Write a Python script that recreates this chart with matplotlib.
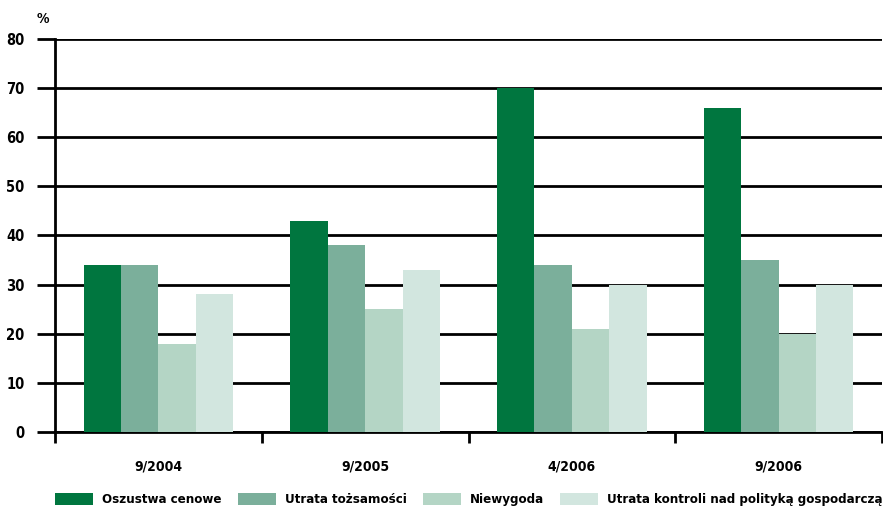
import matplotlib
matplotlib.use('Agg')
from matplotlib import pyplot as plt
import numpy as np

# data
periods = ['9/2004', '9/2005', '4/2006', '9/2006']
series = ['Oszustwa cenowe', 'Utrata tożsamości', 'Niewygoda',
          'Utrata kontroli nad polityką gospodarczą']
oszustwa = [34, 43, 70, 66]
tozsamosc = [34, 38, 34, 35]
niewygoda = [18, 25, 21, 20]
kontrola = [28, 33, 30, 30]
colors = ['#00763F', '#7BAF9B', '#B4D5C5', '#D2E6DF']
yticks = [0, 10, 20, 30, 40, 50, 60, 70, 80]

plt.rcParams['font.family'] = ['DejaVu Sans']
plt.rcParams['font.stretch'] = 'condensed'
plt.rcParams['font.weight'] = 'bold'

fig = plt.figure(figsize=(8.83, 5.09), dpi=100)
ax = fig.add_axes([0.0623, 0.1513, 0.9366, 0.7721])

x = np.arange(len(periods)) + 0.5
w = 0.181
for i, (vals, name) in enumerate(zip([oszustwa, tozsamosc, niewygoda, kontrola], series)):
    ax.bar(x + (i - 1.5) * w, vals, w, color=colors[i], label=name, zorder=3)

ax.set_xlim(0, 4)
ax.set_ylim(0, 80)
ax.set_yticks(yticks)
ax.set_yticklabels([str(v) for v in yticks], fontsize=10.5, fontweight='bold')
ax.yaxis.grid(True, color='black', linewidth=2, zorder=1)
ax.tick_params(axis='y', length=13, width=2, pad=9)

ax.set_xticks(x)
ax.set_xticklabels(periods, fontsize=10, fontweight='bold')
ax.set_xticks(np.arange(0, 5), minor=True)
ax.tick_params(axis='x', which='major', length=0, pad=20)
ax.tick_params(axis='x', which='minor', length=8, width=2)

for s in ['top', 'right']:
    ax.spines[s].set_visible(False)
ax.spines['left'].set_linewidth(2)
ax.spines['bottom'].set_linewidth(2)

fig.text(0.041, 0.962, '%', fontsize=10, fontweight='bold', ha='left', va='center')

fig.legend(loc='lower left', bbox_to_anchor=(0.0623, 0.005, 0.937, 0.03), mode='expand',
           ncol=4, frameon=False, fontsize=9.5, handlelength=2.88, handleheight=1.1,
           handletextpad=0.68, borderaxespad=0, borderpad=0)

fig.savefig('out.png', dpi=100)
